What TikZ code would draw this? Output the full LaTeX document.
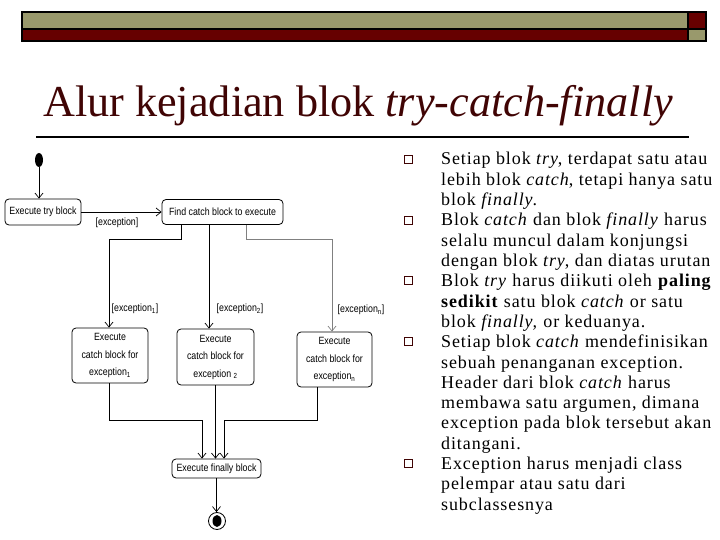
\documentclass[tikz,border=0pt]{standalone}
\usepackage{fontspec}
\setmainfont{Liberation Serif}
\newfontfamily\bodyfont[LetterSpace=5]{Liberation Serif}
\newfontfamily\diagfont[FakeStretch=0.84]{Liberation Sans}
\usetikzlibrary{shapes,shapes.geometric}
\usetikzlibrary{positioning,arrows.meta}
\definecolor{barolive}{RGB}{153,153,108}
\definecolor{barred}{RGB}{102,0,0}
\definecolor{titlered}{RGB}{64,4,4}
\newcommand{\excp}[1]{[exception\textsubscript{#1}]}

\begin{document}
\begin{tikzpicture}[x=1pt,y=-1pt,
  state/.style={draw,rounded corners=4pt,line width=0.8pt,inner sep=1pt,align=center,
    font=\diagfont\fontsize{10.5}{17.5}\selectfont},
  guard/.style={font=\diagfont\fontsize{10.5}{11}\selectfont,inner sep=0pt},
  flow/.style={line width=0.7pt,-{Straight Barb[length=5pt,width=8pt]}},
  body/.style={anchor=base west,inner sep=0pt,font=\bodyfont\fontsize{18}{20}\selectfont},
  bullet/.style={draw=titlered,line width=0.7pt,minimum size=8pt,inner sep=0pt}]
\useasboundingbox (0,0) rectangle (720,540);

% header bar
\draw[line width=1.5pt,fill=barolive] (22,12) rectangle (688,29);
\draw[line width=1.5pt,fill=barred] (22,29) rectangle (688,41);
\draw[line width=1.5pt,fill=barred] (688,12) rectangle (706,29);
\draw[line width=1.5pt,fill=barolive] (688,29) rectangle (706,41);

\draw(43,117) node[anchor=base west,inner sep=0pt,text=titlered,font=\fontsize{44.2}{50}\selectfont] (title) {Alur kejadian blok \textit{try-catch-finally}};
\draw[line width=1.6pt] (36,137) -- (689,137);

% activity diagram
\draw(39,160) node[ellipse,fill,minimum width=8pt,minimum height=14pt,inner sep=0pt] (start) {};
\draw(43,212) node[state,minimum width=76pt,minimum height=26pt] (try) {Execute try block};
\draw(222.5,212) node[state,minimum width=121pt,minimum height=25pt] (find) {Find catch block to execute};
\draw(110,355.5) node[state,minimum width=76pt,minimum height=55pt] (catch1) {Execute\\catch block for\\exception\textsubscript{1}};
\draw(215.5,357) node[state,minimum width=77pt,minimum height=56pt] (catch2) {Execute\\catch block for\\exception \textsubscript{2}};
\draw(334.5,359.5) node[state,minimum width=75pt,minimum height=55pt] (catchn) {Execute\\catch block for\\exception\textsubscript{n}};
\draw(216.5,468.5) node[state,minimum width=89pt,minimum height=19pt] (finally) {Execute finally block};
\draw(217,521) node[circle,draw,line width=0.8pt,minimum size=17pt,inner sep=0pt] (stop) {};
\draw(217,521) node[ellipse,fill,minimum width=9pt,minimum height=12pt,inner sep=0pt] (stopdot) {};

\draw[flow] (start) -- (start |- try.north);
\draw[flow] (try.east) -- (try.east -| find.west);
\draw[flow] ([xshift=20pt]find.south west) -- ++(0,14) -| ([xshift=-1pt]catch1.north);
\draw[flow] ([xshift=-13.5pt]find.south) -- ([xshift=-13.5pt]find.south |- catch2.north);
\draw[flow,gray] ([xshift=-37pt]find.south east) -- ++(0,14) -| ([xshift=-2.5pt]catchn.north);
\draw[flow] ([xshift=-1pt]catch1.south) -- ++(0,37) -| ([xshift=-14.5pt]finally.north);
\draw[flow] (catch2.south) -- (catch2.south |- finally.north);
\draw[flow] ([xshift=-17.5pt]catchn.south) -- ++(0,33) -| ([xshift=7.5pt]finally.north);
\draw[flow] (finally.south) -- (finally.south |- stop.north);

\draw(117,223) node[guard] (g0) {[exception]};
\draw(135,309) node[guard] (g1) {\excp{1}};
\draw(240,309) node[guard] (g2) {\excp{2}};
\draw(361,310) node[guard] (gn) {\excp{n}};

% bullet list
\draw(408,159) node[bullet] (b1) {};
\draw(408,219.9) node[bullet] (b2) {};
\draw(408,280.8) node[bullet] (b3) {};
\draw(408,341.7) node[bullet] (b4) {};
\draw(408,463.5) node[bullet] (b5) {};

\draw(441,165) node[body] (l1) {Setiap blok \textit{try}, terdapat satu atau};
\draw(441,185.3) node[body] (l2) {lebih blok \textit{catch}, tetapi hanya satu};
\draw(441,205.6) node[body] (l3) {blok \textit{finally}.};
\draw(441,225.9) node[body] (l4) {Blok \textit{catch} dan blok \textit{finally} harus};
\draw(441,246.2) node[body] (l5) {selalu muncul dalam konjungsi};
\draw(441,266.5) node[body] (l6) {dengan blok \textit{try}, dan diatas urutan};
\draw(441,286.8) node[body] (l7) {Blok \textit{try} harus diikuti oleh \textbf{paling}};
\draw(441,307.1) node[body] (l8) {\textbf{sedikit} satu blok \textit{catch} or satu};
\draw(441,327.4) node[body] (l9) {blok \textit{finally,} or keduanya.};
\draw(441,347.7) node[body] (l10) {Setiap blok \textit{catch} mendefinisikan};
\draw(441,368) node[body] (l11) {sebuah penanganan exception.};
\draw(441,388.3) node[body] (l12) {Header dari blok \textit{catch} harus};
\draw(441,408.6) node[body] (l13) {membawa satu argumen, dimana};
\draw(441,428.9) node[body] (l14) {exception pada blok tersebut akan};
\draw(441,449.2) node[body] (l15) {ditangani.};
\draw(441,469.5) node[body] (l16) {Exception harus menjadi class};
\draw(441,489.8) node[body] (l17) {pelempar atau satu dari};
\draw(441,510.1) node[body] (l18) {subclassesnya};
\end{tikzpicture}
\end{document}
